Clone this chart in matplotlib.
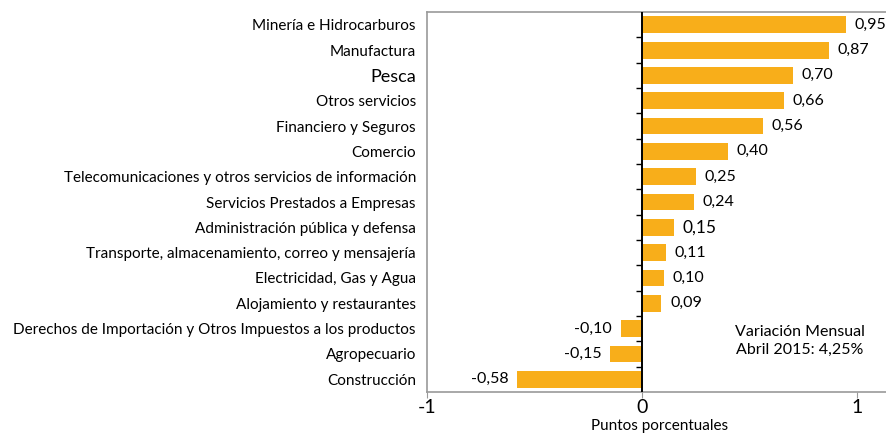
import matplotlib
matplotlib.use("Agg")
import matplotlib.pyplot as plt
import numpy as np

sectors = [
    "Minería e Hidrocarburos",
    "Manufactura",
    "Pesca",
    "Otros servicios",
    "Financiero y Seguros",
    "Comercio",
    "Telecomunicaciones y otros servicios de información",
    "Servicios Prestados a Empresas",
    "Administración pública y defensa",
    "Transporte, almacenamiento, correo y mensajería",
    "Electricidad, Gas y Agua",
    "Alojamiento y restaurantes",
    "Derechos de Importación y Otros Impuestos a los productos",
    "Agropecuario",
    "Construcción",
]
values = [0.95, 0.87, 0.70, 0.66, 0.56, 0.40, 0.25, 0.24, 0.15, 0.11, 0.10, 0.09,
          -0.10, -0.15, -0.58]
value_labels = ["0,95", "0,87", "0,70", "0,66", "0,56", "0,40", "0,25", "0,24", "0,15",
                "0,11", "0,10", "0,09", "-0,10", "-0,15", "-0,58"]
xticks = [-1, 0, 1]
note = "Variación Mensual\nAbril 2015: 4,25%"

BAR = "#F8AE1A"
FRAME = "#9a9a9a"
plt.rcParams["font.family"] = ["Lato", "DejaVu Sans"]

fig = plt.figure(figsize=(8.86, 4.37), dpi=100)
# axes run a little past the right edge of the canvas, as in the source
ax = fig.add_axes([0.482, 0.103, 0.525, 0.8695])

y = np.arange(len(sectors))
ax.barh(y, values, height=0.67, color=BAR, zorder=2)
ax.axvline(0, color="k", lw=1.4, zorder=3)
# small ticks on the zero line between categories
ax.plot(np.zeros(len(sectors) - 1), y[:-1] + 0.5, ls="none", marker=0, ms=4,
        mew=1.0, color="k", zorder=3)

for yi, v, lab in zip(y, values, value_labels):
    big = lab in ("0,15",)
    if v >= 0:
        ax.text(v + 0.04, yi, lab, ha="left", va="center", fontsize=12.5 if big else 11.5)
    else:
        ax.text(v - 0.04, yi, lab, ha="right", va="center", fontsize=11.5)

ax.set_ylim(len(sectors) - 0.5, -0.5)
ax.set_xlim(-1, 1.163)
ax.set_yticks(y)
ax.set_yticklabels(sectors, fontsize=11)
for t in ax.get_yticklabels():
    if t.get_text() == "Pesca":
        t.set_fontsize(13)
ax.tick_params(axis="y", length=0, pad=8)
ax.set_xticks(xticks)
ax.set_xticklabels([str(t) for t in xticks], fontsize=14)
ax.tick_params(axis="x", length=4, color=FRAME, pad=1)
ax.set_xlabel("Puntos porcentuales", fontsize=11, labelpad=2)
for s in ax.spines.values():
    s.set_color(FRAME)
    s.set_linewidth(1.2)
ax.spines["right"].set_visible(False)

ax.text(0.735, 12.5, note, ha="center", va="center", fontsize=11.5, linespacing=1.35)

fig.savefig("out.png", dpi=100)
